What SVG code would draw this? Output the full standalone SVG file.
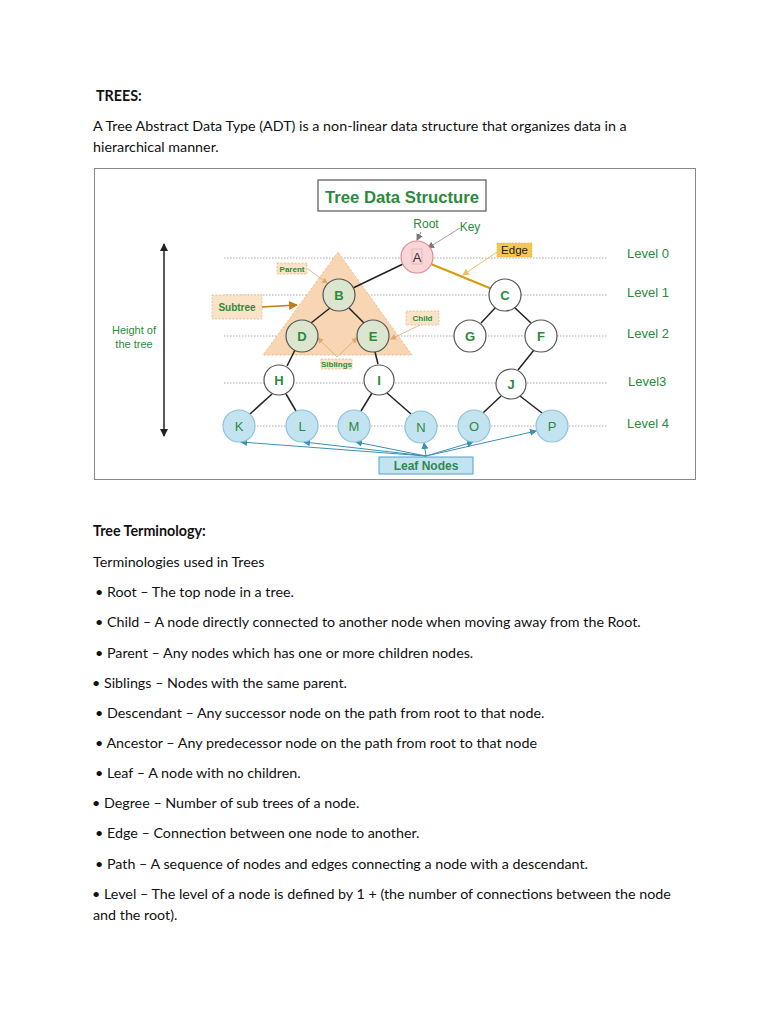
<svg xmlns="http://www.w3.org/2000/svg" width="768" height="1024" viewBox="0 0 768 1024">
<style>
.body{font-family:Lato,"Liberation Sans",sans-serif;font-size:14.3px;fill:#111}
.bold{font-weight:bold}
.g{font-family:"Liberation Sans",Arial,sans-serif;fill:#2c8a3c}
.lvl{font-size:13px}
.dot{stroke:#aaa;stroke-width:1;stroke-dasharray:1.5 1.5}
.edge{stroke:#222;stroke-width:1.5;fill:none}
.nw{fill:#fff;stroke:#555;stroke-width:1.2}
.ng{fill:#dce5cd;stroke:#555;stroke-width:1.2}
.nl{fill:#c4e3f0;stroke:#8cc2da;stroke-width:1.2}
.lt{font-family:"Liberation Sans",Arial,sans-serif;font-size:13px;font-weight:bold;fill:#2c8a3c;text-anchor:middle}
.ll{font-family:"Liberation Sans",Arial,sans-serif;font-size:13px;fill:#2c8a3c;text-anchor:middle}
.tag{fill:#fbe3c8;stroke:#e3b78a;stroke-width:0.8;stroke-dasharray:2 1.5}
.small{font-family:"Liberation Sans",Arial,sans-serif;font-size:8px;font-weight:bold;fill:#2c8a3c;text-anchor:middle}
.blue{stroke:#3d8fb5;stroke-width:1;fill:none}
</style>
<defs>
<marker id="ab" markerWidth="8" markerHeight="8" refX="7" refY="4" orient="auto-start-reverse" markerUnits="userSpaceOnUse"><path d="M0,0 L8,4 L0,8 z" fill="#222"/></marker>
<marker id="ag" markerWidth="7" markerHeight="7" refX="6" refY="3.5" orient="auto" markerUnits="userSpaceOnUse"><path d="M0,0 L7,3.5 L0,7 z" fill="#777"/></marker>
<marker id="ao" markerWidth="9" markerHeight="9" refX="8" refY="4.5" orient="auto" markerUnits="userSpaceOnUse"><path d="M0,0 L9,4.5 L0,9 z" fill="#c47a1e"/></marker>
<marker id="ay" markerWidth="7" markerHeight="7" refX="6" refY="3.5" orient="auto" markerUnits="userSpaceOnUse"><path d="M0,0 L7,3.5 L0,7 z" fill="#f0c060"/></marker>
<marker id="at" markerWidth="6" markerHeight="6" refX="5" refY="3" orient="auto" markerUnits="userSpaceOnUse"><path d="M0,0 L6,3 L0,6 z" fill="#e0a870"/></marker>
<marker id="abl" markerWidth="7" markerHeight="7" refX="6" refY="3.5" orient="auto" markerUnits="userSpaceOnUse"><path d="M0,0 L7,3.5 L0,7 z" fill="#3d8fb5"/></marker>
</defs>
<rect width="768" height="1024" fill="#fff"/>

<!-- header text -->
<text class="body bold" x="96" y="101" font-size="14.5">TREES:</text>
<text class="body" x="93" y="131">A Tree Abstract Data Type (ADT) is a non-linear data structure that organizes data in a</text>
<text class="body" x="93" y="152">hierarchical manner.</text>

<!-- figure -->
<rect x="94.5" y="168.5" width="601" height="311" fill="#fff" stroke="#888" stroke-width="1"/>
<g id="title">
<rect x="318" y="180" width="168" height="31" fill="#fff" stroke="#555" stroke-width="1.2"/>
<text x="325" y="203" class="g" font-size="17" font-weight="bold" textLength="154" lengthAdjust="spacingAndGlyphs">Tree Data Structure</text>
</g>

<!-- level lines -->
<g id="levels">
<line class="dot" x1="224" y1="258" x2="608" y2="258"/>
<line class="dot" x1="224" y1="295" x2="608" y2="295"/>
<line class="dot" x1="224" y1="336" x2="608" y2="336"/>
<line class="dot" x1="224" y1="383" x2="608" y2="383"/>
<line class="dot" x1="224" y1="426" x2="608" y2="426"/>
<text class="g lvl" x="627" y="258">Level 0</text>
<text class="g lvl" x="627" y="297">Level 1</text>
<text class="g lvl" x="627" y="338">Level 2</text>
<text class="g lvl" x="628" y="386">Level3</text>
<text class="g lvl" x="627" y="428">Level 4</text>
</g>

<!-- subtree triangle -->
<polygon points="338,252 263,355 412,355" fill="#f9d6b3" stroke="#e6b080" stroke-width="0.8" stroke-dasharray="2 2"/>

<!-- height -->
<g id="height">
<line x1="164" y1="244" x2="164" y2="436" stroke="#222" stroke-width="1.5" marker-start="url(#ab)" marker-end="url(#ab)"/>
<text class="g" x="134" y="334" font-size="11" text-anchor="middle">Height of</text>
<text class="g" x="134" y="348" font-size="11" text-anchor="middle">the tree</text>
</g>

<!-- connectors -->
<g id="connectors">
<line class="edge" x1="403" y1="264" x2="353" y2="288"/>
<line x1="431" y1="264" x2="492" y2="289" stroke="#d99a0b" stroke-width="2"/>
<line class="edge" x1="330" y1="308" x2="311" y2="323"/>
<line class="edge" x1="349" y1="308" x2="364" y2="323"/>
<line class="edge" x1="295" y1="350" x2="287" y2="366"/>
<line class="edge" x1="375" y1="352" x2="378" y2="364"/>
<line class="edge" x1="272" y1="394" x2="250" y2="414"/>
<line class="edge" x1="286" y1="394" x2="296" y2="411"/>
<line class="edge" x1="372" y1="393" x2="361" y2="411"/>
<line class="edge" x1="387" y1="393" x2="411" y2="414"/>
<line class="edge" x1="496" y1="307" x2="481" y2="323"/>
<line class="edge" x1="514" y1="307" x2="531" y2="323"/>
<line class="edge" x1="534" y1="350" x2="518" y2="370"/>
<line class="edge" x1="501" y1="396" x2="483" y2="413"/>
<line class="edge" x1="520" y1="396" x2="542" y2="413"/>
<!-- annotation arrows -->
<line x1="421" y1="232" x2="417" y2="240" stroke="#666" stroke-width="0.8" marker-end="url(#ag)"/>
<line x1="460" y1="228" x2="428" y2="248" stroke="#888" stroke-width="0.8" marker-end="url(#ag)"/>
<line x1="497" y1="252" x2="463" y2="275" stroke="#f0c060" stroke-width="1" marker-end="url(#ay)"/>
<line x1="262" y1="307" x2="297" y2="305" stroke="#c47a1e" stroke-width="1.5" marker-end="url(#ao)"/>
<line x1="308" y1="269" x2="327" y2="283" stroke="#e0a870" stroke-width="0.8" marker-end="url(#at)"/>
<line x1="420" y1="325" x2="391" y2="339" stroke="#e0a870" stroke-width="0.8" marker-end="url(#at)"/>
<line x1="337" y1="357" x2="318" y2="338" stroke="#e0a870" stroke-width="0.8" marker-end="url(#at)"/>
<line x1="337" y1="357" x2="357" y2="338" stroke="#e0a870" stroke-width="0.8" marker-end="url(#at)"/>
<line class="blue" x1="426" y1="456" x2="241" y2="442" marker-end="url(#abl)"/>
<line class="blue" x1="426" y1="456" x2="304" y2="442" marker-end="url(#abl)"/>
<line class="blue" x1="426" y1="456" x2="356" y2="442" marker-end="url(#abl)"/>
<line class="blue" x1="426" y1="456" x2="424" y2="443" marker-end="url(#abl)"/>
<line class="blue" x1="426" y1="456" x2="473" y2="442" marker-end="url(#abl)"/>
<line class="blue" x1="426" y1="456" x2="536" y2="431" marker-end="url(#abl)"/>
</g>

<!-- annotation tags -->
<g id="root-label"><text class="g" x="426" y="228" font-size="12" text-anchor="middle">Root</text></g>
<g id="key-label"><text class="g" x="470" y="231" font-size="12" text-anchor="middle">Key</text></g>
<g id="edge-label"><rect x="497" y="243" width="35" height="14" fill="#f7c650" stroke="#e6b040" stroke-width="0.6" stroke-dasharray="2 1"/><text x="514.5" y="254" font-family="Liberation Sans,Arial,sans-serif" font-size="11.5" fill="#222" text-anchor="middle">Edge</text></g>
<g id="parent-label"><rect class="tag" x="277" y="263" width="30" height="11"/><text class="small" x="292" y="271.5">Parent</text></g>
<g id="subtree-label"><rect class="tag" x="212" y="295" width="50" height="24"/><text x="237" y="311" font-family="Liberation Sans,Arial,sans-serif" font-size="10" font-weight="bold" fill="#2c8a3c" text-anchor="middle">Subtree</text></g>
<g id="child-label"><rect class="tag" x="406" y="311" width="33" height="14"/><text class="small" x="422.5" y="320.5">Child</text></g>
<g id="siblings-label"><rect class="tag" x="321" y="359" width="31" height="10"/><text class="small" x="336.5" y="367">Siblings</text></g>
<g id="leaf-label"><rect x="379" y="457" width="94" height="17" fill="#c4e3f0" stroke="#4aa3c8" stroke-width="1"/><text x="426" y="470" font-family="Liberation Sans,Arial,sans-serif" font-size="12" font-weight="bold" fill="#2e8a55" text-anchor="middle">Leaf Nodes</text></g>

<!-- nodes -->
<g id="A"><circle cx="417" cy="257" r="16" fill="#f8d5d6" stroke="#d98c90" stroke-width="1.2"/><rect x="412" y="249" width="10" height="15" fill="none" stroke="#e8a0a8" stroke-width="0.6"/><text x="417" y="262" font-family="Liberation Sans,Arial,sans-serif" font-size="13" fill="#333" text-anchor="middle">A</text></g>
<g id="B"><circle class="ng" cx="339" cy="295" r="16"/><text class="lt" x="339" y="300">B</text></g>
<g id="C"><circle class="nw" cx="505" cy="295" r="16"/><text class="lt" x="505" y="300">C</text></g>
<g id="D"><circle class="ng" cx="302" cy="336" r="16"/><text class="lt" x="302" y="341">D</text></g>
<g id="E"><circle class="ng" cx="373" cy="336" r="16"/><text class="lt" x="373" y="341">E</text></g>
<g id="G"><circle class="nw" cx="470" cy="336" r="16"/><text class="lt" x="470" y="341">G</text></g>
<g id="F"><circle class="nw" cx="541" cy="336" r="16"/><text class="lt" x="541" y="341">F</text></g>
<g id="H"><circle class="nw" cx="279" cy="380" r="15"/><text class="lt" x="279" y="385">H</text></g>
<g id="I"><circle class="nw" cx="379" cy="380" r="15"/><text class="lt" x="379" y="385">I</text></g>
<g id="J"><circle class="nw" cx="511" cy="384" r="15"/><text class="lt" x="511" y="389">J</text></g>
<g id="K"><circle class="nl" cx="239" cy="426" r="16"/><text class="ll" x="239" y="431">K</text></g>
<g id="L"><circle class="nl" cx="302" cy="426" r="16"/><text class="ll" x="302" y="431">L</text></g>
<g id="M"><circle class="nl" cx="354" cy="426" r="16"/><text class="ll" x="354" y="431">M</text></g>
<g id="N"><circle class="nl" cx="421" cy="427" r="16"/><text class="ll" x="421" y="432">N</text></g>
<g id="O"><circle class="nl" cx="474" cy="426" r="16"/><text class="ll" x="474" y="431">O</text></g>
<g id="P"><circle class="nl" cx="552" cy="426" r="16"/><text class="ll" x="552" y="431">P</text></g>

<!-- terminology -->
<text class="body bold" x="93" y="536" font-size="15">Tree Terminology:</text>
<text class="body" x="93" y="567">Terminologies used in Trees</text>
<text class="body" x="95" y="597">• Root – The top node in a tree.</text>
<text class="body" x="95" y="627">• Child – A node directly connected to another node when moving away from the Root.</text>
<text class="body" x="95" y="658">• Parent – Any nodes which has one or more children nodes.</text>
<text class="body" x="92" y="688">• Siblings – Nodes with the same parent.</text>
<text class="body" x="95" y="718">• Descendant – Any successor node on the path from root to that node.</text>
<text class="body" x="95" y="748">• Ancestor – Any predecessor node on the path from root to that node</text>
<text class="body" x="95" y="778">• Leaf – A node with no children.</text>
<text class="body" x="92" y="808">• Degree – Number of sub trees of a node.</text>
<text class="body" x="95" y="838">• Edge – Connection between one node to another.</text>
<text class="body" x="95" y="869">• Path – A sequence of nodes and edges connecting a node with a descendant.</text>
<text class="body" x="92" y="899">• Level – The level of a node is defined by 1 + (the number of connections between the node</text>
<text class="body" x="93" y="920">and the root).</text>
</svg>
